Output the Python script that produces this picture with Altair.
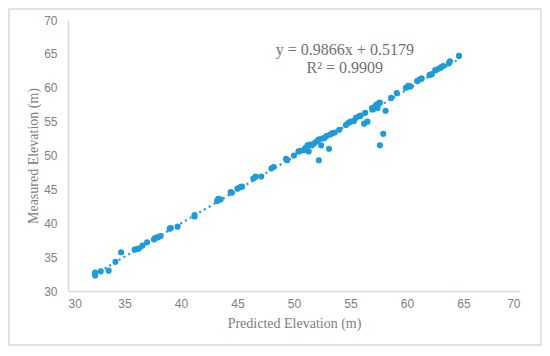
import altair as alt
import pandas as pd

predicted = [32.4, 32.4, 32.9, 33.6, 34.2, 34.7, 35.9, 36.1, 36.3, 36.6,
             37.0, 37.6, 37.7, 37.9, 38.0, 38.2, 39.0, 39.1, 39.7, 41.2,
             41.2, 43.2, 43.3, 43.5, 44.4, 44.5, 45.0, 45.2, 45.4, 46.4,
             46.6, 47.1, 48.0, 48.2, 49.3, 49.4, 50.0, 50.4, 50.6, 50.9,
             51.0, 51.1, 51.2, 51.3, 51.4, 51.6, 51.8, 52.0, 52.2, 52.2,
             52.4, 52.5, 52.7, 52.9, 53.1, 53.2, 53.4, 53.6, 54.0, 54.6,
             54.8, 55.0, 55.3, 55.5, 55.8, 55.9, 56.2, 56.3, 56.5, 56.9,
             57.0, 57.2, 57.3, 57.4, 57.5, 57.6, 57.6, 57.9, 58.1, 58.6,
             59.1, 59.9, 60.1, 60.3, 60.9, 61.1, 61.3, 62.0, 62.2, 62.5,
             62.8, 63.0, 63.2, 63.7, 63.8, 64.6]
measured = [32.3, 32.7, 32.9, 33.0, 34.3, 35.7, 36.1, 36.2, 36.3, 36.7,
            37.2, 37.6, 37.8, 37.9, 38.0, 38.1, 39.2, 39.3, 39.5, 41.0,
            41.2, 43.3, 43.6, 43.5, 44.6, 44.5, 45.1, 45.3, 45.4, 46.6,
            46.9, 46.9, 48.1, 48.3, 49.5, 49.3, 50.0, 50.6, 50.7, 50.8,
            51.1, 50.9, 51.5, 50.6, 51.6, 51.5, 51.8, 52.1, 49.3, 52.4,
            51.5, 52.5, 52.6, 52.9, 51.0, 53.1, 53.3, 53.4, 53.8, 54.5,
            54.8, 55.0, 55.1, 55.6, 55.8, 55.9, 54.7, 56.3, 55.0, 57.0,
            56.8, 57.3, 57.5, 57.0, 57.7, 57.8, 51.5, 53.2, 56.6, 58.5,
            59.2, 60.0, 60.3, 60.2, 61.0, 61.2, 61.4, 61.9, 62.0, 62.6,
            62.8, 63.0, 63.2, 63.6, 63.9, 64.7]

slope = 0.9866
intercept = 0.5179
annot_text = ["y = 0.9866x + 0.5179", "R² = 0.9909"]
annot_x = [54.5, 54.5]
annot_y = [65.6, 62.9]
tick_values = [30, 35, 40, 45, 50, 55, 60, 65, 70]

blue = "#1f9bd7"
gray = "#808080"
axis_col = "#d9d9d9"

pts = pd.DataFrame({"x": predicted, "y": measured})
xmin, xmax = min(predicted), max(predicted)
trend = pd.DataFrame({"x": [xmin, xmax],
                      "y": [slope * xmin + intercept, slope * xmax + intercept]})
annot = pd.DataFrame({"x": annot_x, "y": annot_y, "t": annot_text})

xscale = alt.Scale(domain=[30, 70], nice=False, zero=False)
yscale = alt.Scale(domain=[30, 70], nice=False, zero=False)

xaxis = alt.Axis(title="Predicted Elevation (m)", values=tick_values, tickCount=9, labelOverlap=False,
                 grid=False, ticks=False, domainColor=axis_col, domainWidth=1.5,
                 labelColor=gray, labelFont="Liberation Sans", labelFontSize=12,
                 labelPadding=7, titleFont="Liberation Serif", titleFontSize=14,
                 titleFontWeight="normal", titleColor=gray, titlePadding=7)
yaxis = alt.Axis(title="Measured Elevation (m)", values=tick_values, tickCount=9, labelOverlap=False,
                 grid=False, ticks=False, domainColor=axis_col, domainWidth=1.5,
                 labelColor=gray, labelFont="Liberation Sans", labelFontSize=12,
                 labelPadding=11, titleFont="Liberation Serif", titleFontSize=14,
                 titleFontWeight="normal", titleColor=gray, titlePadding=3)

X = alt.X("x:Q", scale=xscale, axis=xaxis)
Y = alt.Y("y:Q", scale=yscale, axis=yaxis)

frame = alt.Chart(pd.DataFrame({"a": [0]})).mark_rect(
    fill="white", fillOpacity=0, stroke="#d9d9d9", strokeWidth=1.5
).encode(x=alt.value(-59), x2=alt.value(473), y=alt.value(-11), y2=alt.value(325))

line = alt.Chart(trend).mark_line(
    color=blue, strokeWidth=2.2, strokeDash=[2, 3.5]
).encode(x=X, y=Y)

points = alt.Chart(pts).mark_circle(size=38, color=blue, opacity=1).encode(x=X, y=Y)

text = alt.Chart(annot).mark_text(
    font="Liberation Serif", fontSize=16, color="#707070", align="center", baseline="middle"
).encode(x=X, y=Y, text="t:N")

chart = alt.layer(frame, line, points, text).properties(
    width=452, height=271,
    autosize=alt.AutoSizeParams(type="none"),
    padding={"left": 60, "top": 12, "right": 22, "bottom": 57},
    background="white",
).configure_view(stroke=None)

chart.save("out.html", embed_options={"renderer": "svg", "actions": False})
